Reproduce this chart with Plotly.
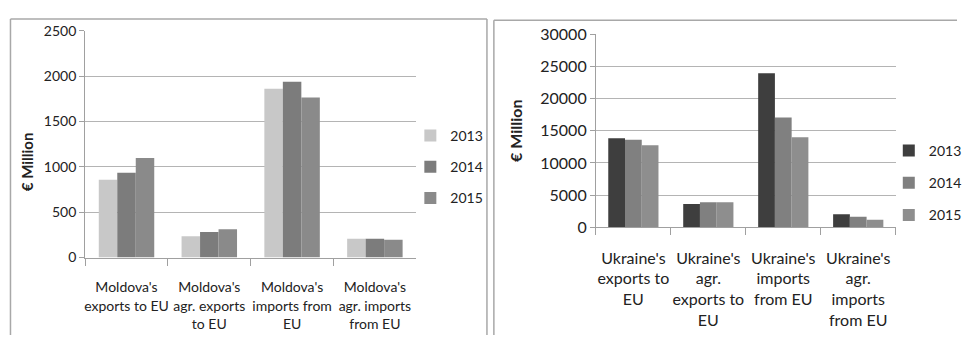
import plotly.graph_objects as go

years = ["2013", "2014", "2015"]

md_categories = ["Moldova's<br>exports to EU", "Moldova's<br>agr. exports<br>to EU",
                 "Moldova's<br>imports from<br>EU", "Moldova's<br>agr. imports<br>from EU"]
md_2013 = [858, 235, 1862, 207]
md_2014 = [935, 283, 1938, 207]
md_2015 = [1098, 311, 1764, 196]

ua_categories = ["Ukraine's<br>exports to<br>EU", "Ukraine's<br>agr.<br>exports to<br>EU",
                 "Ukraine's<br>imports<br>from EU", "Ukraine's<br>agr.<br>imports<br>from EU"]
ua_2013 = [13830, 3630, 23940, 2050]
ua_2014 = [13620, 3890, 17050, 1640]
ua_2015 = [12760, 3890, 13990, 1180]

md_ticks = [0, 500, 1000, 1500, 2000, 2500]
ua_ticks = [0, 5000, 10000, 15000, 20000, 25000, 30000]
ua_ticktext = ["0", "5000", "10000", "15000", "20000", "25000", "30000"]

md_colors = ["#c8c8c8", "#7c7c7c", "#8a8a8a"]
ua_colors = ["#3e3e3e", "#808080", "#8e8e8e"]

FONT = "Lato, Roboto, Liberation Sans, Arial"

fig = go.Figure()
for yr, vals, c in zip(years, [md_2013, md_2014, md_2015], md_colors):
    fig.add_trace(go.Bar(x=md_categories, y=vals, name=yr, marker_color=c,
                         marker_line_width=0, xaxis="x", yaxis="y",
                         legend="legend", legendgroup="md" + yr))
for yr, vals, c in zip(years, [ua_2013, ua_2014, ua_2015], ua_colors):
    fig.add_trace(go.Bar(x=ua_categories, y=vals, name=yr, marker_color=c,
                         marker_line_width=0, xaxis="x2", yaxis="y2",
                         legend="legend2", legendgroup="ua" + yr))

# page body has an 8px margin on every side; size the figure so the page is exactly 975x352
OFF = 8
W, H = 975 - 2 * OFF, 352 - 2 * OFF
def px(x): return (x - OFF) / W
def py(y): return 1 - (y - OFF) / H

axis_common = dict(showline=True, linecolor="#a0a0a0", linewidth=1, color="#222")
box_line = dict(color="#a8a8a8", width=1.5)

fig.update_layout(
    width=W, height=H, margin=dict(l=0, r=0, t=0, b=0),
    paper_bgcolor="white", plot_bgcolor="white",
    barmode="group", bargap=0.33, bargroupgap=0,
    font=dict(family=FONT, color="#222"),
    xaxis=dict(domain=[px(85), px(420)], anchor="y", ticks="outside", tickson="boundaries",
               ticklen=7, tickcolor="#a0a0a0", tickfont=dict(size=14), tickangle=0,
               ticklabelstandoff=17, showgrid=False, **axis_common),
    yaxis=dict(domain=[py(261.9), py(21.6)], anchor="x", range=[0, 2500], tickvals=md_ticks,
               ticks="outside", ticklen=5, tickcolor="#a0a0a0", showgrid=True, gridcolor="#b4b4b4",
               tickfont=dict(size=14), zeroline=False, **axis_common),
    xaxis2=dict(domain=[px(601.7), px(905)], anchor="y2", ticks="outside", tickson="boundaries",
                ticklen=7, tickcolor="#a0a0a0", tickfont=dict(size=16), tickangle=0,
                ticklabelstandoff=16, showgrid=False, **axis_common),
    yaxis2=dict(domain=[py(229.9), py(25.1)], anchor="x2", range=[0, 30000], tickvals=ua_ticks,
                ticktext=ua_ticktext,
                ticks="outside", ticklen=5, tickcolor="#a0a0a0", showgrid=True, gridcolor="#b4b4b4",
                tickfont=dict(size=16), zeroline=False,
                title=dict(text="<b>€ Million</b>", font=dict(size=16), standoff=13), **axis_common),
    legend=dict(x=px(414), y=py(116), xanchor="left", yanchor="top", font=dict(size=14),
                tracegroupgap=10, itemwidth=30, bgcolor="rgba(0,0,0,0)"),
    legend2=dict(x=px(898), y=py(132), xanchor="left", yanchor="top", font=dict(size=14),
                 tracegroupgap=11, itemwidth=30, bgcolor="rgba(0,0,0,0)"),
    annotations=[
        dict(text="<b>€ Million</b>", xref="paper", yref="paper", x=px(27), y=py(160),
             textangle=-90, showarrow=False, font=dict(size=15, color="#222"),
             xanchor="center", yanchor="middle"),
    ],
    shapes=[
        dict(type="line", xref="paper", yref="paper", x0=px(9.5), x1=px(9.5), y0=0, y1=py(9), line=box_line),
        dict(type="line", xref="paper", yref="paper", x0=px(9.5), x1=px(491.5), y0=py(9), y1=py(9), line=box_line),
        dict(type="line", xref="paper", yref="paper", x0=px(491.5), x1=px(491.5), y0=0, y1=py(9), line=box_line),
        dict(type="line", xref="paper", yref="paper", x0=px(498.5), x1=px(498.5), y0=0, y1=py(10.5), line=box_line),
        dict(type="line", xref="paper", yref="paper", x0=px(498.5), x1=1.0, y0=py(10.5), y1=py(10.5), line=box_line),
    ],
)

fig.write_html("out.html", config={"displayModeBar": False})
